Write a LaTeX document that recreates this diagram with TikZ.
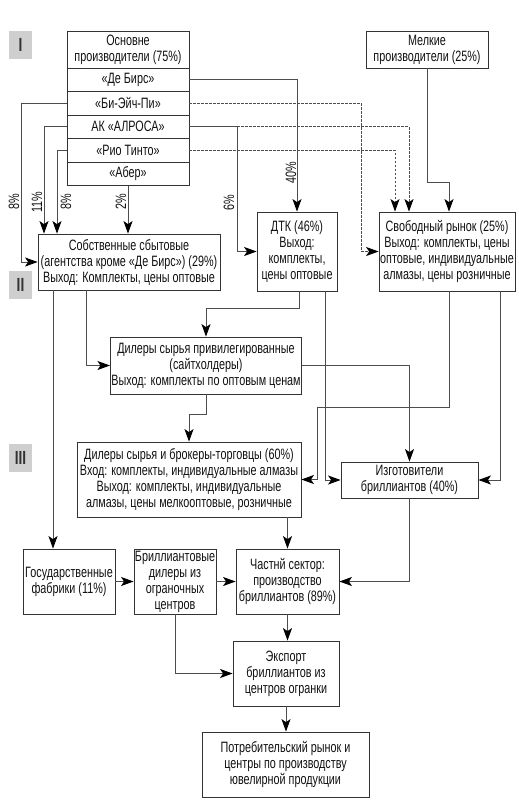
\documentclass[tikz,border=0pt]{standalone}
\usepackage{fontspec}
\setmainfont{Liberation Sans}[FakeStretch=0.72]
\usepackage{tikz}
\usetikzlibrary{arrows.meta}
\usetikzlibrary{positioning}

\definecolor{linecol}{HTML}{4D4D4D}
\definecolor{boxcol}{HTML}{333333}
\definecolor{textcol}{HTML}{111111}
\definecolor{secgray}{HTML}{CFCFCF}

\tikzset{
	box/.style={draw=boxcol, line width=0.8pt, align=center, inner sep=1pt, text=textcol, font=\fontsize{15}{16}\selectfont},
	arr/.style={draw=linecol, line width=0.9pt, -{Stealth[length=12.5pt,width=9pt,inset=3pt,color=black]}},
	darr/.style={arr, dash pattern=on 2.5pt off 1.5pt},
	pct/.style={rotate=90, text=textcol, inner sep=0pt, font=\fontsize{15}{15}\selectfont},
	sect/.style={fill=secgray, minimum width=23pt, minimum height=28pt, inner sep=0pt, text=black!80, font=\bfseries\fontsize{19}{19}\selectfont}
}

\begin{document}
\begin{tikzpicture}[x=1pt, y=-1pt]
				\useasboundingbox (0,0) rectangle (519,808);
				
				\node[sect] (s1) at (20.5,45) {I};
				\node[sect] (s2) at (20.5,285) {II};
				\node[sect] (s3) at (20.5,458) {III};
				
				\node[box, minimum width=122pt, minimum height=37pt] (osn) at (128,49.5) {Основне\\производители (75\%)};
				\node[box, minimum width=122pt, minimum height=23.5pt] (debeers) at (128,79.75) {«Де Бирс»};
				\node[box, minimum width=122pt, minimum height=23.5pt] (bhp) at (128,103.25) {«Би-Эйч-Пи»};
				\node[box, minimum width=122pt, minimum height=23.5pt] (alrosa) at (128,126.75) {АК «АЛРОСА»};
				\node[box, minimum width=122pt, minimum height=23.5pt] (rio) at (128,150.25) {«Рио Тинто»};
				\node[box, minimum width=122pt, minimum height=23.5pt] (aber) at (128,173.75) {«Абер»};
				\node[box, minimum width=122pt, minimum height=37pt] (melk) at (427,49.5) {Мелкие\\производители (25\%)};
				
				\node[box, minimum width=182pt, minimum height=56pt] (sobst) at (129,262) {Собственные сбытовые\\(агентства кроме «Де Бирс») (29\%)\\Выход: Комплекты, цены оптовые};
				\node[box, minimum width=80pt, minimum height=79pt] (dtk) at (297,251.5) {ДТК (46\%)\\Выход:\\комплекты,\\цены оптовые};
				\node[box, minimum width=136pt, minimum height=79pt] (svob) at (447,251.5) {Свободный рынок (25\%)\\Выход: комплекты, цены\\оптовые, индивидуальные\\алмазы, цены розничные};
				\node[box, minimum width=188pt, minimum height=57pt] (priv) at (206,365.5) {Дилеры сырья привилегированные\\(сайтхолдеры)\\Выход: комплекты по оптовым ценам};
				\node[box, minimum width=224pt, minimum height=75pt] (dil) at (189,479.5) {Дилеры сырья и брокеры-торговцы (60\%)\\Вход: комплекты, индивидуальные алмазы\\Выход: комплекты, индивидуальные\\алмазы, цены мелкооптовые, розничные};
				\node[box, minimum width=137pt, minimum height=36pt] (izg) at (409.5,480) {Изготовители\\бриллиантов (40\%)};
				\node[box, minimum width=92pt, minimum height=65pt] (gos) at (69,581.5) {Государственные\\фабрики (11\%)};
				\node[box, minimum width=82pt, minimum height=65pt] (bril) at (175,581.5) {Бриллиантовые\\дилеры из\\ограночных\\центров};
				\node[box, minimum width=103pt, minimum height=65pt] (chast) at (287.5,581.5) {Частнй сектор:\\производство\\бриллиантов (89\%)};
				\node[box, minimum width=106pt, minimum height=65pt] (eksp) at (286,673.5) {Экспорт\\бриллиантов из\\центров огранки};
				\node[box, minimum width=167pt, minimum height=65pt] (potr) at (285.5,764.5) {Потребительский рынок и\\центры по производству\\ювелирной продукции};
				
				\node[pct] (p1) at (14,202) {8\%};
				\node[pct] (p2) at (37,202) {11\%};
				\node[pct] (p3) at (66,202) {8\%};
				\node[pct] (p4) at (121,202) {2\%};
				\node[pct] (p5) at (229,203) {6\%};
				\node[pct] (p6) at (291,173) {40\%};
				
				\draw[arr]  (bhp.west) -- ++(-45,0) |- (sobst.west);
				\draw[arr]  (alrosa.west) -| ([xshift=-85]sobst.north);
				\draw[arr]  (rio.west) -| ([xshift=-72]sobst.north);
				\draw[arr]  (aber.south) -- (sobst.north -| aber.south);
				\draw[arr]  (alrosa.east) -- ++(48,0) coordinate (alrsplit) |- (dtk.west);
				\draw[darr] (alrsplit) -| ([xshift=-38]svob.north);
				\draw[arr]  (debeers.east) -| (dtk.north);
				\draw[darr] (bhp.east) -- ++(172,0) |- (svob.west);
				\draw[darr] (rio.east) -| ([xshift=-52]svob.north);
				\draw[arr]  (melk.south) -- ++(0,114) -| ([xshift=2]svob.north);
				
				\draw[arr]  ([xshift=-76]sobst.south) -- ([xshift=-16]gos.north);
				\draw[arr]  ([xshift=-43]sobst.south) |- (priv.west);
				\draw[arr]  ([xshift=2]dtk.south) -- ++(0,17) -| (priv.north);
				\draw[arr]  ([xshift=28]dtk.south) |- (izg.west);
				\draw[arr]  (priv.east) -| (izg.north);
				\draw[arr]  ([xshift=2]svob.south) -- ++(0,116) -- ++(-132,0) |- (dil.east);
				\draw[arr]  ([xshift=53]svob.south) |- (izg.east);
				\draw[arr]  (priv.south) -- ++(0,20) -| (dil.north);
				\draw[arr]  (dil.south -| chast.north) -- (chast.north);
				\draw[arr]  (izg.south) |- (chast.east);
				
				\draw[arr]  (gos.east) -- (bril.west);
				\draw[arr]  (bril.east) -- (chast.west);
				\draw[arr]  (bril.south) |- (eksp.west);
				\draw[arr]  (chast.south) -- (eksp.north -| chast.south);
				\draw[arr]  (eksp.south) -- (potr.north -| eksp.south);
			\end{tikzpicture}
\end{document}
